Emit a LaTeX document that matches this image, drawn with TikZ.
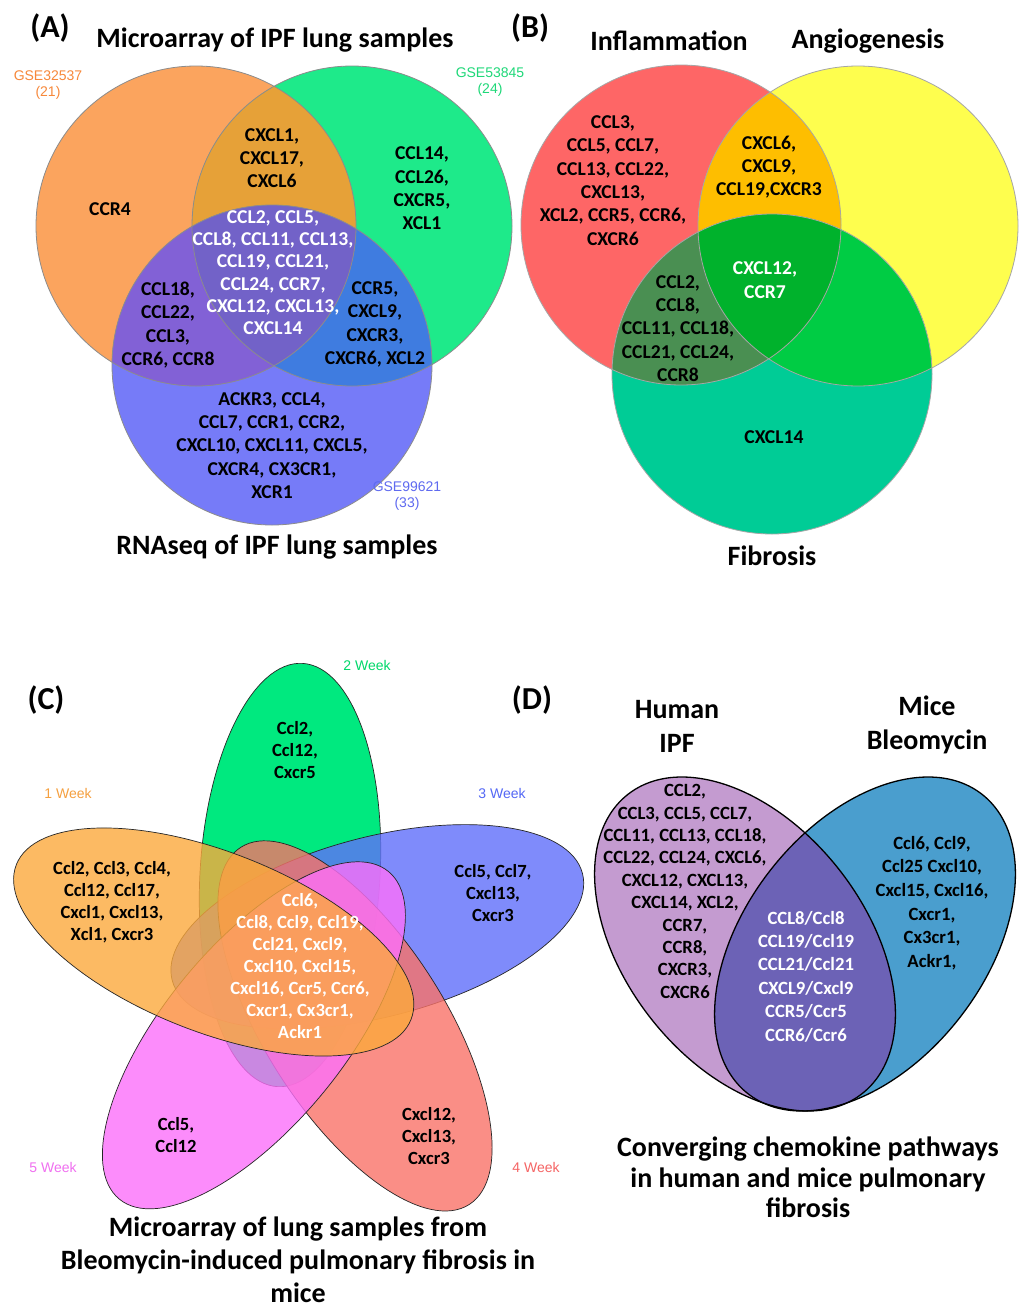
\documentclass[tikz,border=0pt]{standalone}
\usepackage{fontspec}
\setmainfont{Carlito}
\newfontfamily\arialf{Liberation Sans}
% panel A colours
\definecolor{aO}{HTML}{FBA45E}
\definecolor{aG}{HTML}{1EEA8A}
\definecolor{aB}{HTML}{767BF8}
\definecolor{aOG}{HTML}{E6A138}
\definecolor{aOB}{HTML}{8261D6}
\definecolor{aGB}{HTML}{3F7CE0}
\definecolor{aOGB}{HTML}{7262C8}
% panel B colours
\definecolor{bR}{HTML}{FE6666}
\definecolor{bY}{HTML}{FEFE4E}
\definecolor{bF}{HTML}{00CC96}
\definecolor{bRY}{HTML}{FEBE00}
\definecolor{bRF}{HTML}{4A8F52}
\definecolor{bYF}{HTML}{00CC44}
\definecolor{bRYF}{HTML}{00B22C}
% panel C colours
\definecolor{cGreen}{HTML}{00E97F}
\definecolor{cBlue}{RGB}{95,111,250}
\definecolor{cRed}{RGB}{249,114,104}
\definecolor{cMag}{RGB}{252,112,250}
\definecolor{cOra}{RGB}{252,169,60}
% panel D colours
\definecolor{dP}{HTML}{C49BD0}
\definecolor{dB}{HTML}{4A9ECE}
\definecolor{dPB}{HTML}{6C62B6}
% label colours
\definecolor{lO}{HTML}{F7883A}
\definecolor{lG}{HTML}{1ED878}
\definecolor{lB}{HTML}{5F6AF0}
\definecolor{lW1}{HTML}{F5A040}
\definecolor{lW2}{HTML}{00D86A}
\definecolor{lW3}{HTML}{5468F5}
\definecolor{lW4}{HTML}{F56464}
\definecolor{lW5}{HTML}{F070F0}
\begin{document}
\begin{tikzpicture}[x=1pt,y=-1pt,
  gene/.style={font=\fontsize{19.6}{23.3}\selectfont\bfseries, align=center, inner sep=0pt, text=black},
  wgene/.style={gene, text=white},
  mgene/.style={font=\fontsize{18.6}{22}\selectfont\bfseries, align=center, inner sep=0pt, text=black},
  wmgene/.style={mgene, text=white},
  dgene/.style={font=\fontsize{18.7}{22.4}\selectfont\bfseries, align=center, inner sep=0pt, text=black},
  wdgene/.style={font=\fontsize{18.7}{23.4}\selectfont\bfseries, align=center, inner sep=0pt, text=white},
  ttl/.style={font=\fontsize{28}{33.5}\selectfont\bfseries, align=center, inner sep=0pt},
  panel/.style={font=\fontsize{32}{36}\selectfont\bfseries, inner sep=0pt},
  small/.style={font=\arialf\fontsize{14}{16}\selectfont, align=center, inner sep=0pt},
  vline/.style={draw=black!45, line width=0.8pt},
  cell/.style={fill opacity=0.8, draw=black!85, draw opacity=1, line width=0.7pt},
  dline/.style={draw=black, line width=1.3pt}
]
\useasboundingbox (0,0) rectangle (1019,1309);
\fill[white] (0,0) rectangle (1019,1309);

% ================= Panel A =================
\def\cO{(196,226) circle[radius=160pt]}
\def\cG{(352,226) circle[radius=160pt]}
\def\cB{(272,365) circle[radius=160pt]}
\fill[aO] \cO; \fill[aG] \cG; \fill[aB] \cB;
\begin{scope}\clip \cG; \fill[aGB] \cB; \end{scope}
\begin{scope}\clip \cO; \fill[aOG] \cG; \fill[aOB] \cB; \clip \cG; \fill[aOGB] \cB; \end{scope}
\draw[vline] \cO; \draw[vline] \cG; \draw[vline] \cB;

\node[panel] (pA) at (50,28) {(A)};
\node[ttl] (tA1) at (275,40) {Microarray of IPF lung samples};
\node[ttl] (tA2) at (277,547) {RNAseq of IPF lung samples};
\node[small, text=lO] (gse1) at (48,85) {GSE32537\\(21)};
\node[small, text=lG] (gse2) at (490,82.5) {GSE53845\\(24)};
\node[small, text=lB] (gse3) at (407,496) {GSE99621\\(33)};

\node[gene] (aog) at (272,158) {CXCL1,\\CXCL17,\\CXCL6};
\node[gene] (ao) at (110,209) {CCR4};
\node[gene] (ag) at (422,188.5) {CCL14,\\CCL26,\\CXCR5,\\XCL1};
\node[wgene, font=\fontsize{19.6}{22.3}\selectfont\bfseries] (aogb) at (273,272.5) {CCL2, CCL5,\\CCL8, CCL11, CCL13,\\CCL19, CCL21,\\CCL24, CCR7,\\CXCL12, CXCL13,\\CXCL14};
\node[gene] (aob) at (168,325) {CCL18,\\CCL22,\\CCL3,\\CCR6, CCR8};
\node[gene] (agb) at (375,324.5) {CCR5,\\CXCL9,\\CXCR3,\\CXCR6, XCL2};
\node[gene] (ab) at (272,445.6) {ACKR3, CCL4,\\CCL7, CCR1, CCR2,\\CXCL10, CXCL11, CXCL5,\\CXCR4, CX3CR1,\\XCR1};

% ================= Panel B =================
\def\cR{(681,225) circle[radius=160pt]}
\def\cY{(858,226) circle[radius=160pt]}
\def\cF{(772,374) circle[radius=160pt]}
\fill[bR] \cR; \fill[bY] \cY; \fill[bF] \cF;
\begin{scope}\clip \cY; \fill[bYF] \cF; \end{scope}
\begin{scope}\clip \cR; \fill[bRY] \cY; \fill[bRF] \cF; \clip \cY; \fill[bRYF] \cF; \end{scope}
\draw[vline, draw=black!35] \cR; \draw[vline, draw=black!35] \cY; \draw[vline, draw=black!35] \cF;

\node[panel] (pB) at (530,28) {(B)};
\node[ttl] (tB1) at (669,41) {Inflammation};
\node[ttl] (tB2) at (868,41) {Angiogenesis};
\node[ttl] (tB3) at (772,556) {Fibrosis};

\node[gene] (br) at (613,180.5) {CCL3,\\CCL5, CCL7,\\CCL13, CCL22,\\CXCL13,\\XCL2, CCR5, CCR6,\\CXCR6};
\node[gene] (bry) at (769,167) {CXCL6,\\CXCL9,\\CCL19,CXCR3};
\node[wgene] (bryf) at (765,280) {CXCL12,\\CCR7};
\node[gene] (brf) at (678,328.5) {CCL2,\\CCL8,\\CCL11, CCL18,\\CCL21, CCL24,\\CCR8};
\node[gene] (bf) at (774,437) {CXCL14};

% ================= Panel C =================
\filldraw[fill=cGreen, draw=black!85, line width=0.7pt] (290,875) circle[x radius=212pt, y radius=90pt, rotate=86.6];
\filldraw[cell, fill=cBlue] (377.3,926.8) circle[x radius=212pt, y radius=90pt, rotate=14.6];
\filldraw[cell, fill=cRed] (355,1025.9) circle[x radius=212pt, y radius=90pt, rotate=-57.4];
\filldraw[cell, fill=cMag] (253.9,1035.3) circle[x radius=212pt, y radius=90pt, rotate=-129.4];
\filldraw[cell, fill=cOra] (213.7,942) circle[x radius=212pt, y radius=90pt, rotate=158.6];

\node[panel] (pC) at (46,700) {(C)};
\node[small, text=lW1] (w1) at (68,793) {1 Week};
\node[small, text=lW2] (w2) at (367,665) {2 Week};
\node[small, text=lW3] (w3) at (502,793) {3 Week};
\node[small, text=lW4] (w4) at (536,1167) {4 Week};
\node[small, text=lW5] (w5) at (53,1167) {5 Week};

\node[mgene] (cg) at (295,750.5) {Ccl2,\\Ccl12,\\Cxcr5};
\node[mgene] (co) at (112,902) {Ccl2, Ccl3, Ccl4,\\Ccl12, Ccl17,\\Cxcl1, Cxcl13,\\Xcl1, Cxcr3};
\node[mgene] (cb) at (493,893) {Ccl5, Ccl7,\\Cxcl13,\\Cxcr3};
\node[wmgene] (cc) at (300,966) {Ccl6,\\Ccl8, Ccl9, Ccl19,\\Ccl21, Cxcl9,\\Cxcl10, Cxcl15,\\Cxcl16, Ccr5, Ccr6,\\Cxcr1, Cx3cr1,\\Ackr1};
\node[mgene] (cm) at (176,1135.5) {Ccl5,\\Ccl12};
\node[mgene] (cr) at (429,1136) {Cxcl12,\\Cxcl13,\\Cxcr3};
\node[ttl, font=\fontsize{28}{33}\selectfont\bfseries] (tC) at (298,1260) {Microarray of lung samples from\\Bleomycin-induced pulmonary fibrosis in\\mice};

% ================= Panel D =================
\def\eP{(745,944) circle[x radius=190pt, y radius=120pt, rotate=-52]}
\def\eB{(865,944) circle[x radius=190pt, y radius=120pt, rotate=52]}
\fill[dP] \eP; \fill[dB] \eB;
\begin{scope}\clip \eP; \fill[dPB] \eB; \end{scope}
\draw[dline] \eP; \draw[dline] \eB;

\node[panel] (pD) at (532,700) {(D)};
\node[ttl, font=\fontsize{28}{34}\selectfont\bfseries] (tD1) at (677,726) {Human\\IPF};
\node[ttl, font=\fontsize{28}{34}\selectfont\bfseries] (tD2) at (927,724.5) {Mice\\Bleomycin};
\node[dgene] (dp) at (685,891.5) {CCL2,\\CCL3, CCL5, CCL7,\\CCL11, CCL13, CCL18,\\CCL22, CCL24, CXCL6,\\CXCL12, CXCL13,\\CXCL14, XCL2,\\CCR7,\\CCR8,\\CXCR3,\\CXCR6};
\node[dgene, font=\fontsize{18.7}{23.6}\selectfont\bfseries] (db) at (932,903) {Ccl6, Ccl9,\\Ccl25 Cxcl10,\\Cxcl15, Cxcl16,\\Cxcr1,\\Cx3cr1,\\Ackr1,};
\node[wdgene] (dpb) at (806,976.5) {CCL8/Ccl8\\CCL19/Ccl19\\CCL21/Ccl21\\CXCL9/Cxcl9\\CCR5/Ccr5\\CCR6/Ccr6};
\node[ttl, font=\fontsize{28}{30.5}\selectfont\bfseries] (tD) at (808,1177.5) {Converging chemokine pathways\\in human and mice pulmonary\\fibrosis};
\end{tikzpicture}
\end{document}
